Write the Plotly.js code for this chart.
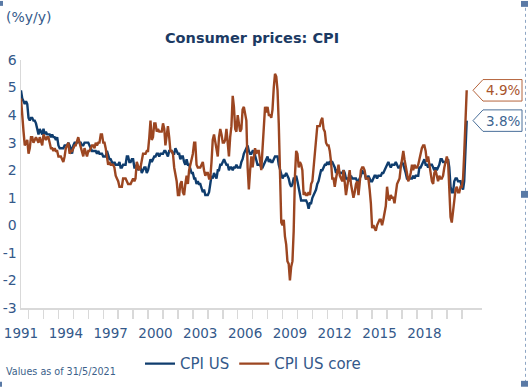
<!DOCTYPE html>
<html>
<head>
<meta charset="utf-8">
<script src="https://cdn.plot.ly/plotly-3.0.1.min.js"></script>
<style>
  html, body { margin: 0; padding: 0; background: #ffffff; }
  #chart { width: 530px; height: 392px; }
</style>
</head>
<body>
<div id="chart"></div>
<script>
// ---------------- DATA ----------------
// Monthly observations, first month = July 1991, last month = May 2021
const firstYear = 1991;
const firstMonth = 7;

// CPI US (blue, smoother series), % y/y
const cpiUS = [
  4.9, 4.6, 4.5, 4.4, 4.5, 4.4,
  3.9, 3.8, 3.9, 3.9, 3.8, 3.8, 3.7, 3.5, 3.3, 3.5, 3.4, 3.3,
  3.5, 3.3, 3.4, 3.3, 3.3, 3.3, 3.2, 3.3, 3.2, 3.2, 3.1, 3.2,
  2.9, 2.8, 2.8, 2.8, 2.8, 2.9, 2.9, 2.9, 3.0, 2.9, 2.8, 2.6,
  2.9, 3.0, 3.0, 3.0, 3.1, 3.0, 3.0, 2.9, 2.9, 3.0, 3.0, 3.0,
  3.0, 2.9, 2.8, 2.7, 2.7, 2.7, 2.7, 2.6, 2.7, 2.6, 2.6, 2.6,
  2.5, 2.5, 2.5, 2.7, 2.5, 2.4, 2.4, 2.3, 2.2, 2.3, 2.2, 2.2,
  2.2, 2.3, 2.1, 2.1, 2.2, 2.2, 2.2, 2.5, 2.5, 2.3, 2.3, 2.4,
  2.4, 2.1, 2.1, 2.2, 2.0, 2.1, 2.1, 1.9, 2.0, 2.1, 2.1, 1.9,
  2.0, 2.2, 2.4, 2.3, 2.4, 2.5, 2.5, 2.6, 2.6, 2.5, 2.6, 2.6,
  2.6, 2.7, 2.7, 2.6, 2.5, 2.7, 2.7, 2.7, 2.6, 2.6, 2.8, 2.7,
  2.6, 2.6, 2.4, 2.5, 2.5, 2.3, 2.2, 2.4, 2.2, 2.2, 2.0, 1.9,
  1.9, 1.7, 1.7, 1.5, 1.6, 1.5, 1.5, 1.3, 1.2, 1.3, 1.1, 1.1,
  1.1, 1.2, 1.6, 1.8, 1.7, 1.9, 1.8, 1.7, 2.0, 2.0, 2.2, 2.2,
  2.3, 2.4, 2.3, 2.2, 2.2, 2.0, 2.1, 2.1, 2.0, 2.1, 2.1, 2.2,
  2.1, 2.1, 2.1, 2.3, 2.4, 2.6, 2.7, 2.8, 2.9, 2.7, 2.6, 2.6,
  2.7, 2.7, 2.5, 2.3, 2.2, 2.2, 2.2, 2.1, 2.1, 2.2, 2.3, 2.4,
  2.5, 2.3, 2.4, 2.3, 2.3, 2.4, 2.5, 2.5, 2.5, 2.2, 2.0, 1.8,
  1.7, 1.8, 1.8, 1.9, 1.8, 1.7, 1.5, 1.4, 1.5, 1.7, 1.7, 1.8,
  1.6, 1.3, 1.1, 0.9, 0.9, 0.9, 0.9, 0.9, 0.8, 0.6, 0.8, 0.8,
  1.0, 1.1, 1.2, 1.3, 1.5, 1.6, 1.8, 2.0, 2.0, 2.1, 2.2, 2.2,
  2.3, 2.2, 2.3, 2.3, 2.3, 2.2, 2.1, 1.9, 2.0, 2.0, 1.9, 1.9,
  1.9, 2.0, 1.9, 1.7, 1.7, 1.6, 1.7, 1.8, 1.7, 1.7, 1.7, 1.7,
  1.6, 1.6, 1.7, 1.8, 2.0, 1.9, 1.9, 1.7, 1.7, 1.8, 1.7, 1.6,
  1.6, 1.7, 1.8, 1.8, 1.7, 1.8, 1.8, 1.8, 1.9, 1.9, 2.0, 2.1,
  2.2, 2.3, 2.2, 2.1, 2.2, 2.2, 2.2, 2.3, 2.2, 2.1, 2.1, 2.2,
  2.3, 2.2, 2.0, 1.9, 1.7, 1.7, 1.7, 1.7, 1.7, 1.8, 1.7, 1.8,
  1.8, 1.8, 2.1, 2.1, 2.2, 2.3, 2.4, 2.2, 2.2, 2.1, 2.2, 2.2,
  2.2, 2.1, 2.0, 2.1, 2.0, 2.1, 2.2, 2.4, 2.4, 2.3, 2.3, 2.3,
  2.3, 2.4, 2.1, 1.4, 1.2, 1.2, 1.6, 1.7, 1.7, 1.6, 1.6, 1.6,
  1.4, 1.3, 1.6, 3.0, 3.8
];

// CPI US core (brown, volatile series), % y/y
const cpiUSCore = [
  4.6, 3.8, 3.4, 2.9, 3.0, 3.1,
  2.6, 2.8, 3.2, 3.2, 3.0, 3.1, 3.2, 3.1, 3.0, 3.2, 3.0, 2.9,
  3.3, 3.2, 3.1, 3.2, 3.2, 3.0, 2.8, 2.8, 2.7, 2.8, 2.7, 2.7,
  2.5, 2.5, 2.5, 2.4, 2.3, 2.5, 2.8, 2.9, 3.0, 2.6, 2.7, 2.7,
  2.8, 2.9, 2.9, 3.1, 3.2, 3.0, 2.8, 2.6, 2.5, 2.8, 2.6, 2.5,
  2.7, 2.7, 2.8, 2.9, 2.9, 2.8, 3.0, 2.9, 3.0, 3.0, 3.3, 3.3,
  3.0, 3.0, 2.8, 2.5, 2.2, 2.3, 2.2, 2.2, 2.2, 2.1, 1.8, 1.7,
  1.6, 1.4, 1.4, 1.4, 1.7, 1.7, 1.7, 1.6, 1.5, 1.5, 1.5, 1.6,
  1.7, 1.6, 1.7, 2.3, 2.1, 2.0, 2.1, 2.3, 2.6, 2.6, 2.6, 2.7,
  2.7, 3.2, 3.8, 3.1, 3.2, 3.7, 3.7, 3.4, 3.5, 3.4, 3.4, 3.4,
  3.7, 3.5, 2.9, 3.3, 3.6, 3.2, 2.7, 2.7, 2.6, 2.1, 1.9, 1.6,
  1.1, 1.1, 1.5, 1.6, 1.2, 1.1, 1.5, 1.8, 1.5, 2.0, 2.2, 2.4,
  2.6, 3.0, 3.0, 2.2, 2.1, 2.1, 2.1, 2.2, 2.3, 2.0, 1.8, 1.9,
  1.9, 1.7, 1.7, 2.3, 3.1, 3.3, 3.0, 2.7, 2.5, 3.2, 3.5, 3.3,
  3.0, 3.0, 3.1, 3.5, 2.8, 2.5, 3.2, 3.6, 4.7, 4.3, 3.5, 3.4,
  4.0, 3.6, 3.4, 3.5, 4.2, 4.3, 4.1, 3.8, 2.1, 1.3, 2.0, 2.5,
  2.1, 2.4, 2.8, 2.6, 2.7, 2.7, 2.4, 2.0, 2.8, 3.5, 4.3, 4.1,
  4.3, 4.0, 4.0, 3.9, 4.2, 5.0, 5.5, 5.4, 4.9, 3.7, 1.1, 0.1,
  0.0, 0.2, -0.4, -0.7, -1.3, -1.4, -2.0, -1.5, -1.3, -0.2, 1.8, 2.7,
  2.6, 2.1, 2.3, 2.2, 2.0, 1.1, 1.2, 1.1, 1.1, 1.2, 1.1, 1.5,
  1.6, 2.1, 2.7, 3.2, 3.6, 3.6, 3.6, 3.8, 3.9, 3.5, 3.4, 3.0,
  2.9, 2.9, 2.7, 2.3, 1.7, 1.7, 1.4, 1.7, 2.0, 2.2, 1.8, 1.7,
  1.6, 2.0, 1.5, 1.1, 1.4, 1.8, 2.0, 1.5, 1.2, 1.0, 1.2, 1.5,
  1.6, 1.1, 1.5, 2.0, 2.1, 2.1, 2.0, 1.7, 1.7, 1.7, 1.3, 0.8,
  -0.1, 0.0, -0.1, -0.2, 0.0, 0.1, 0.2, 0.2, 0.0, 0.2, 0.5, 0.7,
  1.4, 1.0, 0.9, 1.1, 1.0, 1.0, 0.8, 1.1, 1.5, 1.6, 1.7, 2.1,
  2.5, 2.7, 2.4, 2.2, 1.9, 1.6, 1.7, 1.9, 2.2, 2.0, 2.2, 2.1,
  2.1, 2.2, 2.4, 2.5, 2.8, 2.9, 2.9, 2.7, 2.3, 2.5, 2.2, 1.9,
  1.6, 1.5, 1.9, 2.0, 1.8, 1.6, 1.8, 1.7, 1.7, 1.8, 2.1, 2.3,
  2.5, 2.3, 1.5, 0.3, 0.1, 0.6, 1.0, 1.3, 1.4, 1.2, 1.2, 1.4,
  1.4, 1.7, 2.6, 4.2, 4.9
];

const seriesNames = ['CPI US', 'CPI US core'];
const xTickYears = ['1991', '1994', '1997', '2000', '2003', '2006', '2009', '2012', '2015', '2018'];
const yTickVals = [-3, -2, -1, 0, 1, 2, 3, 4, 5, 6];
const yTickText = ['-3', '-2', '-1', '0', '1', '2', '3', '4', '5', '6'];
const calloutText = ['3.8%', '4.9%'];

// ---------------- BUILD ----------------
function pad(n) { return (n < 10 ? '0' : '') + n; }
const dates = cpiUS.map(function (_, i) {
  const m0 = firstMonth - 1 + i;
  const y = firstYear + Math.floor(m0 / 12);
  const m = (m0 % 12) + 1;
  return y + '-' + pad(m) + '-01';
});
const lastYear = parseInt(dates[dates.length - 1].slice(0, 4), 10);
const yearTicks = [];
for (let y = firstYear + 1; y <= lastYear; y++) yearTicks.push(y + '-01-01');

const BLUE = '#0f3d6e';
const BROWN = '#9c4621';
const TXT = '#34598a';
const FONT = 'DejaVu Sans';

// pixel helpers for decorations (plot area: x 21..482, y 60..312)
const L = 21, R = 482, T = 60, B = 312;
function px(x) { return (x - L) / (R - L); }
function py(y) { return (B - y) / (B - T); }

const traces = [
  { x: dates, y: cpiUS, name: seriesNames[0], type: 'scatter', mode: 'lines',
    line: { color: BLUE, width: 2.4 } },
  { x: dates, y: cpiUSCore, name: seriesNames[1], type: 'scatter', mode: 'lines',
    line: { color: BROWN, width: 2.4 } }
];

const shapes = [];
const annotations = [];
// callouts at the last value of each series
[[cpiUS, '#4a6f99', '#3d6591', calloutText[0]], [cpiUSCore, '#b5643c', '#a9552c', calloutText[1]]].forEach(function (c) {
  const v = c[0][c[0].length - 1];
  const h = 0.39;
  const xt = px(473), xl = px(483), xr = px(522);
  shapes.push({
    type: 'path', xref: 'paper', yref: 'y',
    path: 'M ' + xt + ',' + v + ' L ' + xl + ',' + (v + h) + ' L ' + xr + ',' + (v + h) +
          ' L ' + xr + ',' + (v - h) + ' L ' + xl + ',' + (v - h) + ' Z',
    line: { color: c[1], width: 1 }, fillcolor: '#ffffff'
  });
  annotations.push({
    xref: 'paper', yref: 'y', x: px(502.5), y: v, text: c[3], showarrow: false,
    xanchor: 'center', yanchor: 'middle',
    font: { family: FONT, size: 13.5, color: c[2] }
  });
});

// frame decorations (dotted right border and handles)
shapes.push({ type: 'line', xref: 'paper', yref: 'paper', x0: px(525.5), x1: px(525.5), y0: py(7), y1: py(388),
  line: { color: '#8ea6c4', width: 1, dash: 'dot' } });
[[521, 0, 528, 6], [521, 193, 528, 200], [521, 386, 528, 392], [0, 0, 3, 5], [0, 387, 2, 392]].forEach(function (r) {
  shapes.push({ type: 'rect', xref: 'paper', yref: 'paper', x0: px(r[0]), x1: px(r[2]), y0: py(r[1]), y1: py(r[3]),
    line: { width: 0 }, fillcolor: '#5a7aa6' });
});

annotations.push({
  xref: 'paper', yref: 'paper', x: px(4), y: py(16), xanchor: 'left', yanchor: 'middle',
  text: '(%y/y)', showarrow: false, font: { family: FONT, size: 14, color: TXT }
});
annotations.push({
  xref: 'paper', yref: 'paper', x: px(4), y: py(377), xanchor: 'left', yanchor: 'middle',
  text: 'Values as of 31/5/2021', showarrow: false, font: { family: FONT, size: 9.6, color: '#3b5f8a' }
});

const layout = {
  width: 530, height: 392,
  margin: { l: L, r: 530 - R, t: T, b: 392 - B, pad: 0 },
  paper_bgcolor: '#ffffff', plot_bgcolor: '#ffffff',
  font: { family: FONT, color: TXT },
  title: {
    text: '<b>Consumer prices: CPI</b>',
    font: { family: FONT, size: 14.5, color: '#1b3a63' },
    xref: 'container', yref: 'container', x: 252 / 530, xanchor: 'center',
    y: 1 - 38 / 392, yanchor: 'middle'
  },
  xaxis: {
    type: 'date',
    range: [dates[0], '2022-05-10'],
    tickmode: 'array',
    tickvals: xTickYears.map(function (y) { return y + '-07-01'; }),
    ticktext: xTickYears,
    ticks: '', showgrid: false, zeroline: false,
    showline: true, linecolor: '#d9d9d9', linewidth: 1.5,
    tickfont: { family: FONT, size: 13.5, color: TXT },
    ticklabelstandoff: 12,
    minor: { tickmode: 'array', tickvals: yearTicks, ticks: 'outside', ticklen: 9,
             tickcolor: '#d9d9d9', tickwidth: 1.5, showgrid: false }
  },
  yaxis: {
    range: [-3, 6],
    tickmode: 'array', tickvals: yTickVals, ticktext: yTickText,
    ticks: '', showgrid: false, zeroline: false,
    showline: true, linecolor: '#d9d9d9', linewidth: 1.5,
    tickfont: { family: FONT, size: 14, color: TXT }
  },
  showlegend: true,
  legend: {
    orientation: 'h', x: px(140), y: py(352), xanchor: 'left', yanchor: 'top',
    font: { family: FONT, size: 15, color: TXT }, bgcolor: 'rgba(0,0,0,0)'
  },
  shapes: shapes,
  annotations: annotations
};

Plotly.newPlot('chart', traces, layout, { staticPlot: true, displayModeBar: false });
</script>
</body>
</html>
